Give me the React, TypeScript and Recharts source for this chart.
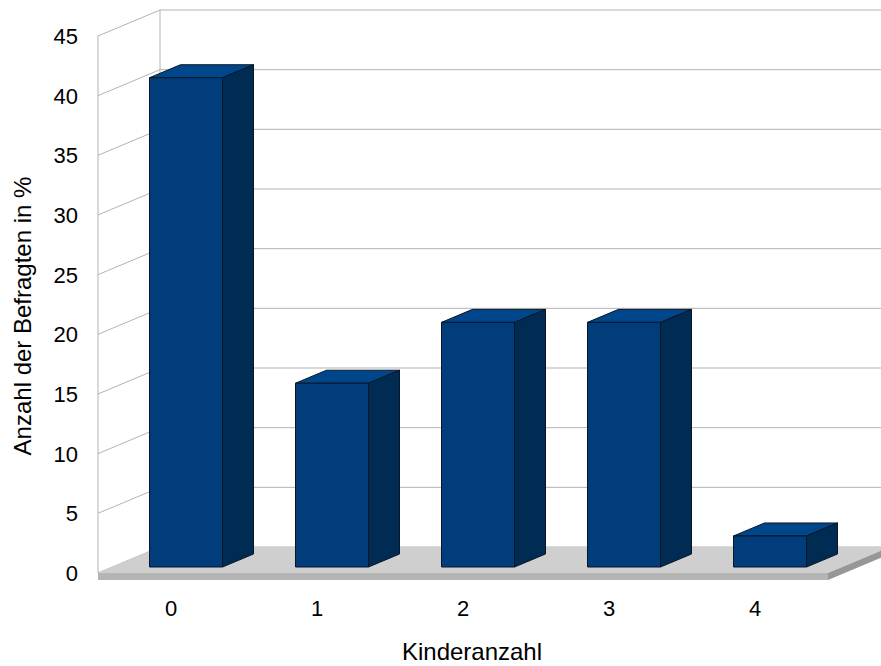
import React from "react";
import { Bar, BarChart, CartesianGrid, XAxis, YAxis } from "recharts";

const kinderanzahl = ["0", "1", "2", "3", "4"];
const anteile = [41, 15.4, 20.5, 20.5, 2.6];
const yTicks = [0, 5, 10, 15, 20, 25, 30, 35, 40, 45];

const data = kinderanzahl.map((k, i) => ({ kinder: k, wert: anteile[i] }));

// depth of the box (floor + walls) and where the bars sit inside it
const DEPTH_X = 62;
const DEPTH_Y = -26;
const BAR_X = 15;
const BAR_Y = -6;
const SIDE_X = 31;
const SIDE_Y = -13;

const FONT = "'Liberation Sans', Arial, sans-serif";
const GRID = "#b3b3b3";

function WallLine(props: any) {
  const { x1, y1, x2, x, y, width, height } = props;
  const top = y;
  const bottom = y + height;
  const isTop = Math.abs(y1 - top) < 0.5;
  const isBottom = Math.abs(y1 - bottom) < 0.5;
  const bx = x1 + DEPTH_X;
  const by = y1 + DEPTH_Y;
  return (
    <g>
      <line x1={x1} y1={y1} x2={bx} y2={by} stroke={GRID} strokeWidth={1} />
      <line x1={bx} y1={by} x2={x2 + DEPTH_X} y2={by} stroke={GRID} strokeWidth={1} />
      {isTop && (
        <g>
          <line x1={x} y1={top} x2={x} y2={bottom} stroke={GRID} strokeWidth={1} />
          <line x1={x + DEPTH_X} y1={top + DEPTH_Y} x2={x + DEPTH_X} y2={bottom + DEPTH_Y} stroke={GRID} strokeWidth={1} />
        </g>
      )}
      {isBottom && (
        <g>
          {/* floor plate */}
          <polygon
            points={`${x},${bottom} ${x + DEPTH_X},${bottom + DEPTH_Y} ${x + width + DEPTH_X},${bottom + DEPTH_Y} ${x + width},${bottom}`}
            fill="#cfcfcf"
          />
          <polygon
            points={`${x},${bottom} ${x + width},${bottom} ${x + width},${bottom + 7} ${x},${bottom + 7}`}
            fill="#b5b5b5"
          />
          <polygon
            points={`${x + width},${bottom} ${x + width + DEPTH_X},${bottom + DEPTH_Y} ${x + width + DEPTH_X},${bottom + DEPTH_Y + 7} ${x + width},${bottom + 7}`}
            fill="#979797"
          />
        </g>
      )}
    </g>
  );
}

function Box3D(props: any) {
  const { x, y, width, height } = props;
  const fx = x + BAR_X;
  const fy = y + BAR_Y;
  const topFace = `${fx},${fy} ${fx + SIDE_X},${fy + SIDE_Y} ${fx + width + SIDE_X},${fy + SIDE_Y} ${fx + width},${fy}`;
  const sideFace = `${fx + width},${fy} ${fx + width + SIDE_X},${fy + SIDE_Y} ${fx + width + SIDE_X},${fy + height + SIDE_Y} ${fx + width},${fy + height}`;
  return (
    <g stroke="#0a1626" strokeWidth={1} strokeLinejoin="round">
      <polygon points={topFace} fill="#00468b" />
      <polygon points={sideFace} fill="#002b52" />
      <rect x={fx} y={fy} width={width} height={height} fill="#003d7a" />
    </g>
  );
}

function YTick(props: any) {
  const { x, y, payload } = props;
  return (
    <text x={x - 20} y={y + 8} textAnchor="end" fontFamily={FONT} fontSize={22} fill="#000">
      {payload.value}
    </text>
  );
}

function XTick(props: any) {
  const { x, y, payload } = props;
  return (
    <text x={x} y={y + 43} textAnchor="middle" fontFamily={FONT} fontSize={22} fill="#000">
      {payload.value}
    </text>
  );
}

export default function App() {
  return (
    <div style={{ position: "absolute", left: 0, top: 0, width: 881, height: 666, background: "#fff" }}>
      <BarChart
        width={881}
        height={666}
        data={data}
        margin={{ top: 36, right: 53, bottom: 0, left: 0 }}
        barCategoryGap="25%"
      >
        <CartesianGrid vertical={false} horizontal={WallLine} />
        <XAxis
          dataKey="kinder"
          height={93}
          axisLine={false}
          tickLine={false}
          tickSize={0}
          tickMargin={0}
          tick={XTick}
          label={{
            content: () => (
              <text x={472} y={660} textAnchor="middle" fontFamily={FONT} fontSize={24} fill="#000">
                Kinderanzahl
              </text>
            ),
          }}
        />
        <YAxis
          width={98}
          domain={[0, 45]}
          ticks={yTicks}
          axisLine={false}
          tickLine={false}
          tickSize={0}
          tickMargin={0}
          tick={YTick}
          label={{
            content: () => (
              <text
                x={22}
                y={316}
                transform="rotate(-90 22 316)"
                textAnchor="middle"
                dominantBaseline="central"
                fontFamily={FONT}
                fontSize={24}
                fill="#000"
              >
                Anzahl der Befragten in %
              </text>
            ),
          }}
        />
        <Bar dataKey="wert" shape={Box3D} isAnimationActive={false} />
      </BarChart>
    </div>
  );
}
